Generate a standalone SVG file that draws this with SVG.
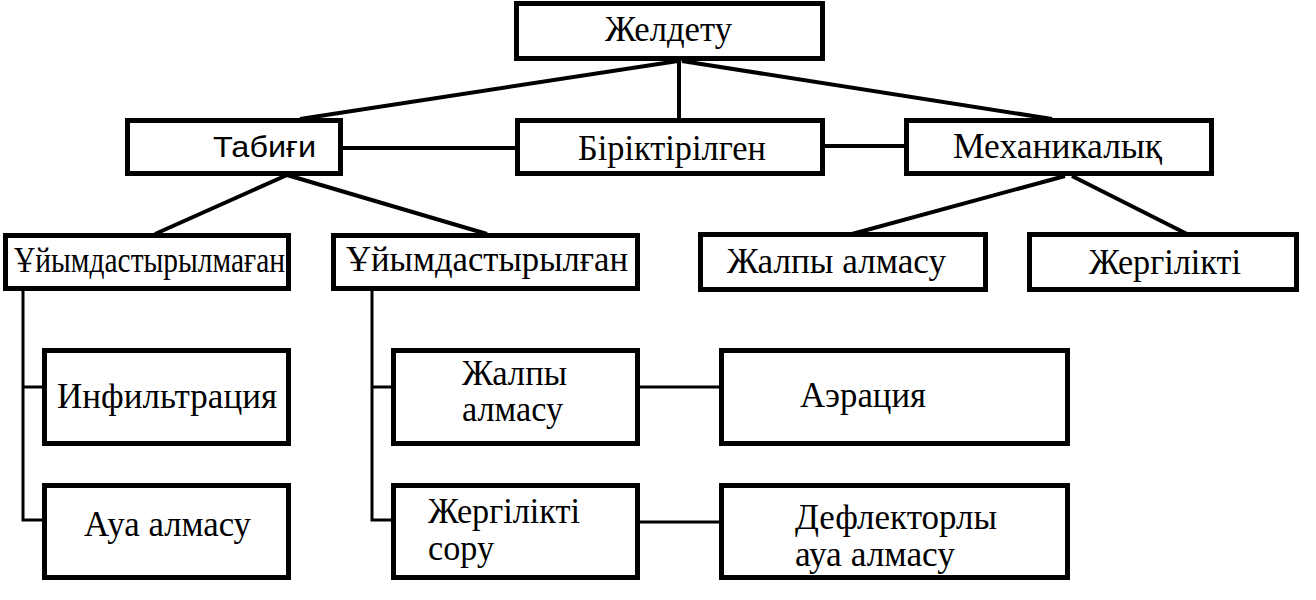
<svg xmlns="http://www.w3.org/2000/svg" width="1316" height="600" viewBox="0 0 1316 600">
<style>
.box{fill:#fff;stroke:#000;stroke-width:5}
.t{font-family:'Liberation Serif','Times New Roman',serif;font-size:35px;fill:#000}
.s{font-family:'Liberation Sans',Arial,sans-serif;font-size:29px;fill:#000}
.c{stroke:#000;stroke-width:4;fill:none}
.v{stroke:#000;stroke-width:3;fill:none}
</style>
<rect width="1316" height="600" fill="#fff"/>
<g id="connectors">
<line class="c" x1="678" y1="61" x2="300" y2="119"/>
<line class="c" x1="679" y1="61" x2="679" y2="119"/>
<line class="c" x1="682" y1="61" x2="1052" y2="119"/>
<line class="c" x1="343" y1="148" x2="515" y2="148"/>
<line class="c" x1="825" y1="146" x2="904" y2="146"/>
<line class="c" x1="287" y1="175" x2="155" y2="234"/>
<line class="c" x1="287" y1="175" x2="487" y2="234"/>
<line class="c" x1="1065" y1="176" x2="852" y2="234"/>
<line class="c" x1="1072" y1="176" x2="1187" y2="234"/>
<polyline class="v" points="23,291 23,520 42,520"/>
<line class="v" x1="23" y1="387" x2="42" y2="387"/>
<polyline class="v" points="372,291 372,520 391,520"/>
<line class="v" x1="372" y1="387" x2="391" y2="387"/>
<line class="v" x1="640" y1="387" x2="719" y2="387"/>
<line class="v" x1="640" y1="522" x2="719" y2="522"/>
</g>
<g id="n-zheldetu"><rect class="box" x="516.5" y="3.5" width="306" height="55"/><text class="t" font-size="33" x="605" y="41" textLength="127" lengthAdjust="spacingAndGlyphs">Желдету</text></g>
<g id="n-tabigi"><rect class="box" x="127.5" y="120.5" width="213" height="53"/><text class="s" x="213" y="157" textLength="103" lengthAdjust="spacingAndGlyphs">Табиғи</text></g>
<g id="n-biriktirilgen"><rect class="box" x="517.5" y="120.5" width="305" height="53"/><text class="t" x="578" y="160" textLength="188" lengthAdjust="spacingAndGlyphs">Біріктірілген</text></g>
<g id="n-mekhanikalyk"><rect class="box" x="906.5" y="120.5" width="305" height="53"/><text class="t" x="953" y="158" textLength="209" lengthAdjust="spacingAndGlyphs">Механикалық</text></g>
<g id="n-uiymdastyrylmagan"><rect class="box" x="5.5" y="235.5" width="283" height="53"/><text class="t" x="14" y="272" font-size="29" textLength="271" lengthAdjust="spacingAndGlyphs">Ұйымдастырылмаған</text></g>
<g id="n-uiymdastyrylgan"><rect class="box" x="333.5" y="235.5" width="304" height="53"/><text class="t" font-size="34" x="346" y="271" textLength="282" lengthAdjust="spacingAndGlyphs">Ұйымдастырылған</text></g>
<g id="n-zhalpy1"><rect class="box" x="700.5" y="234.5" width="285" height="55"/><text class="t" x="727" y="273" textLength="219" lengthAdjust="spacingAndGlyphs">Жалпы алмасу</text></g>
<g id="n-zhergilikti1"><rect class="box" x="1029.5" y="234.5" width="267" height="55"/><text class="t" x="1089" y="274" textLength="152" lengthAdjust="spacingAndGlyphs">Жергілікті</text></g>
<g id="n-infiltratsiya"><rect class="box" x="44.5" y="350.5" width="244" height="93"/><text class="t" x="57" y="408" textLength="220" lengthAdjust="spacingAndGlyphs">Инфильтрация</text></g>
<g id="n-aua"><rect class="box" x="44.5" y="485.5" width="244" height="92"/><text class="t" x="84" y="536" textLength="167" lengthAdjust="spacingAndGlyphs">Ауа алмасу</text></g>
<g id="n-zhalpy2"><rect class="box" x="393.5" y="350.5" width="244" height="93"/><text class="t" x="462" y="385" textLength="105" lengthAdjust="spacingAndGlyphs">Жалпы</text><text class="t" x="462" y="421" textLength="101" lengthAdjust="spacingAndGlyphs">алмасу</text></g>
<g id="n-aeratsiya"><rect class="box" x="721.5" y="350.5" width="346" height="93"/><text class="t" x="800" y="407" textLength="126" lengthAdjust="spacingAndGlyphs">Аэрация</text></g>
<g id="n-zhergilikti2"><rect class="box" x="393.5" y="485.5" width="244" height="92"/><text class="t" x="428" y="523" textLength="152" lengthAdjust="spacingAndGlyphs">Жергілікті</text><text class="t" x="428" y="560" textLength="66" lengthAdjust="spacingAndGlyphs">сору</text></g>
<g id="n-deflektorly"><rect class="box" x="721.5" y="485.5" width="346" height="92"/><text class="t" x="795" y="529" textLength="202" lengthAdjust="spacingAndGlyphs">Дефлекторлы</text><text class="t" x="795" y="566" textLength="160" lengthAdjust="spacingAndGlyphs">ауа алмасу</text></g>
</svg>
